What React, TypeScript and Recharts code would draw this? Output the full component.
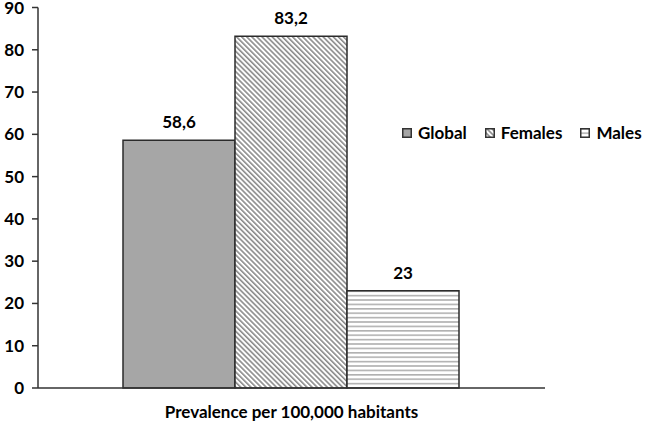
import React from "react";
import { BarChart, Bar, XAxis, YAxis, LabelList } from "recharts";

const categories = ["Prevalence per 100,000 habitants"];
const globalValues = [58.6];
const femalesValues = [83.2];
const malesValues = [23];
const yTicks = [0, 10, 20, 30, 40, 50, 60, 70, 80, 90];

const data = categories.map((c, i) => ({
  name: c,
  Global: globalValues[i],
  Females: femalesValues[i],
  Males: malesValues[i],
}));

const FONT = "Lato, 'Open Sans', sans-serif";
const FS = 17;
const fmt = (v: any) => String(v).replace(".", ",");

const legendItems = [
  { name: "Global", fill: "#a6a6a6" },
  { name: "Females", fill: "url(#diagPat)" },
  { name: "Males", fill: "url(#horizPat)" },
];

const textStyle = { fontFamily: FONT, fontWeight: 700, fontSize: FS, fill: "#000" };

export default function App() {
  return (
    <div style={{ position: "absolute", left: 0, top: 0, width: 650, height: 424, background: "#fff" }}>
      <svg width={0} height={0} style={{ position: "absolute" }}>
        <defs>
          <pattern id="diagPat" patternUnits="userSpaceOnUse" width={3.6} height={3.6} patternTransform="rotate(-45)">
            <rect width={3.6} height={3.6} fill="#fff" />
            <rect width={1.6} height={3.6} fill="#8a8a8a" />
          </pattern>
          <pattern id="horizPat" patternUnits="userSpaceOnUse" width={6} height={4.4}>
            <rect width={6} height={4.4} fill="#fff" />
            <rect y={0} width={6} height={1.6} fill="#b0b0b0" />
          </pattern>
        </defs>
      </svg>
      <BarChart
        width={650}
        height={424}
        data={data}
        margin={{ top: 7.5, right: 105, bottom: 0, left: 0 }}
        barCategoryGap={85}
        barGap={0}
      >
        <XAxis
          dataKey="name"
          height={36}
          axisLine={{ stroke: "#333", strokeWidth: 1.5 }}
          tickLine={false}
          tick={textStyle}
          tickMargin={12}
        />
        <YAxis
          width={38}
          domain={[0, 90]}
          ticks={yTicks}
          interval={0}
          axisLine={{ stroke: "#333", strokeWidth: 1.5 }}
          tickLine={{ stroke: "#333", strokeWidth: 1.5 }}
          tickSize={6}
          tick={textStyle}
          tickMargin={8}
        />
        <Bar dataKey="Global" fill="#a6a6a6" stroke="#2b2b2b" strokeWidth={1.5} isAnimationActive={false}>
          <LabelList dataKey="Global" position="top" offset={12} formatter={fmt} style={textStyle} />
        </Bar>
        <Bar dataKey="Females" fill="url(#diagPat)" stroke="#2b2b2b" strokeWidth={1.5} isAnimationActive={false}>
          <LabelList dataKey="Females" position="top" offset={12} formatter={fmt} style={textStyle} />
        </Bar>
        <Bar dataKey="Males" fill="url(#horizPat)" stroke="#2b2b2b" strokeWidth={1.5} isAnimationActive={false}>
          <LabelList dataKey="Males" position="top" offset={12} formatter={fmt} style={textStyle} />
        </Bar>
      </BarChart>
      <div
        style={{
          position: "absolute",
          left: 402,
          top: 122,
          display: "flex",
          alignItems: "center",
          fontFamily: FONT,
          fontWeight: 700,
          fontSize: FS,
          color: "#000",
          lineHeight: "22px",
        }}
      >
        {legendItems.map((it) => (
          <div key={it.name} style={{ display: "flex", alignItems: "center", marginRight: 18 }}>
            <svg width={10} height={10} style={{ marginRight: 6 }}>
              <rect x={0.75} y={0.75} width={8.5} height={8.5} fill={it.fill} stroke="#333" strokeWidth={1.5} />
            </svg>
            <span>{it.name}</span>
          </div>
        ))}
      </div>
    </div>
  );
}
